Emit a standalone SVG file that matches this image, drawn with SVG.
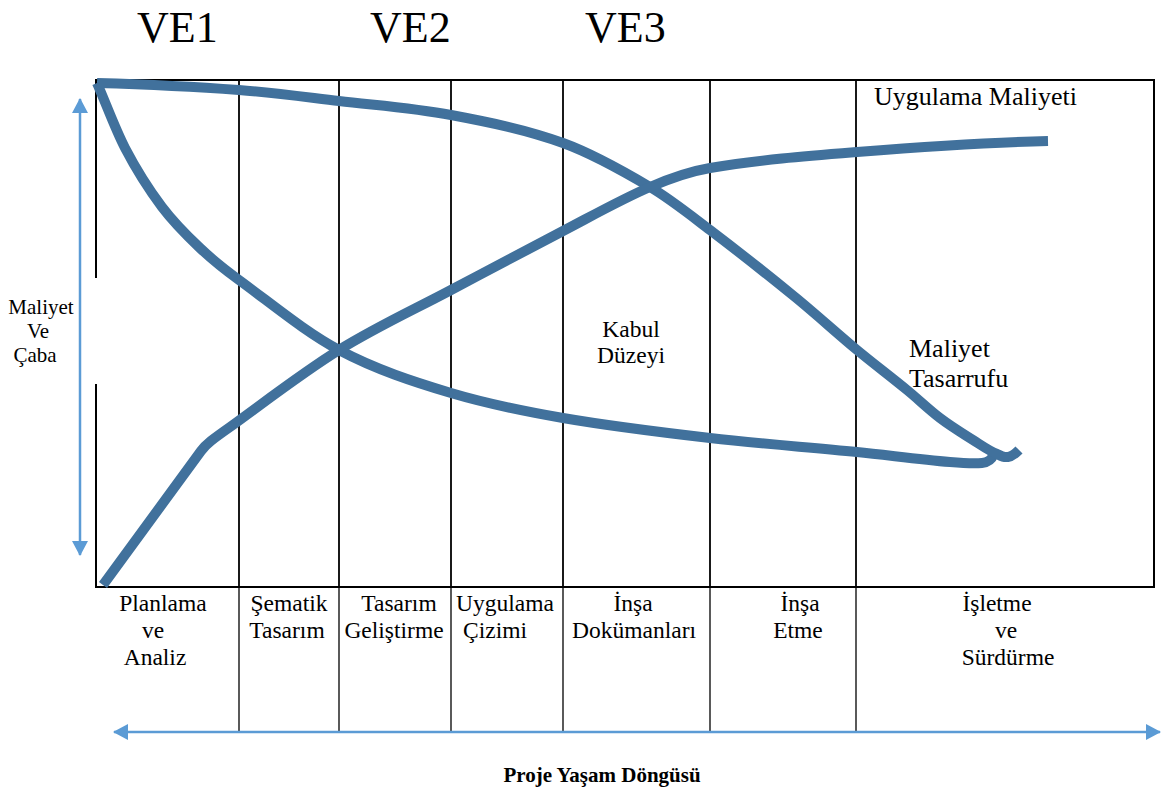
<svg xmlns="http://www.w3.org/2000/svg" width="1161" height="794" viewBox="0 0 1161 794">
  <defs>
    <style>
      .frame { fill: none; stroke: #000; stroke-width: 2; }
      .div { stroke: #000; stroke-width: 1.8; }
      .divlow { stroke: #000; stroke-width: 1.3; }
      .curve { fill: none; stroke: #41719C; stroke-width: 10; stroke-linecap: butt; stroke-linejoin: round; }
      .axis { fill: none; stroke: #5B9BD5; stroke-width: 2.5; }
      text { fill: #000; }
      .ve { font-size: 44px; }
      .lbl { font-size: 23.5px; text-anchor: middle; }
      .big { font-size: 26px; }
      .side { font-size: 21px; text-anchor: middle; }
      .title { font-size: 21px; font-weight: bold; text-anchor: middle; }
    </style>
    <marker id="ah" viewBox="0 0 15 16" refX="14" refY="8" markerWidth="15" markerHeight="16" markerUnits="userSpaceOnUse" orient="auto-start-reverse">
      <path d="M0,0 L15,8 L0,16 Z" fill="#5B9BD5"/>
    </marker>
  </defs>

  <rect width="1161" height="794" fill="#fff"/>

  <g font-family="Liberation Serif, DejaVu Serif, Times New Roman, serif">
  <!-- phase headings -->
  <g id="headings">
    <text class="ve" x="137" y="42">VE1</text>
    <text class="ve" x="370" y="42">VE2</text>
    <text class="ve" x="585" y="42">VE3</text>
  </g>

  <!-- chart frame and phase dividers -->
  <g id="frame">
    <path class="frame" d="M96,278 V80 H1154 V587 H96 V384"/>
    <line class="div" x1="239" y1="80" x2="239" y2="587"/>
    <line class="div" x1="339" y1="80" x2="339" y2="587"/>
    <line class="div" x1="451" y1="80" x2="451" y2="587"/>
    <line class="div" x1="563" y1="80" x2="563" y2="587"/>
    <line class="div" x1="710" y1="80" x2="710" y2="587"/>
    <line class="div" x1="856" y1="80" x2="856" y2="587"/>
    <line class="divlow" x1="239" y1="587" x2="239" y2="732"/>
    <line class="divlow" x1="339" y1="587" x2="339" y2="732"/>
    <line class="divlow" x1="451" y1="587" x2="451" y2="732"/>
    <line class="divlow" x1="563" y1="587" x2="563" y2="732"/>
    <line class="divlow" x1="710" y1="587" x2="710" y2="732"/>
    <line class="divlow" x1="856" y1="587" x2="856" y2="732"/>
  </g>

  <!-- axes -->
  <g id="connectors">
    <line class="axis" x1="80" y1="99" x2="80" y2="555" marker-start="url(#ah)" marker-end="url(#ah)"/>
    <line class="axis" x1="114" y1="732" x2="1160" y2="732" marker-start="url(#ah)" marker-end="url(#ah)"/>
  </g>

  <!-- curves -->
  <g id="curve-savings">
    <path class="curve" d="M97,83 C106.3,104.5 115.7,130.2 125,148 C137.3,171.6 149.7,190.6 162,207 C174.7,223.8 187.3,236 200,248 C213,260.4 226,270.5 239,280 C272.3,304.3 305.7,332.3 339,350 C376.3,369.8 413.7,381.8 451,393 C488.3,404.2 525.7,411.5 563,418 C612,426.5 661,432.3 710,438 C759,443.7 808,447.1 857,452 C888,455.1 919,459.5 950,462 C960.7,462.9 975,463.5 982,463 C988,462.5 992,459 994,454"/>
  </g>
  <g id="curve-cost">
    <path class="curve" d="M97,83 C144.3,84.4 191.7,86.5 239,90 C272.3,92.5 305.7,97.1 339,101 C376.3,105.4 413.7,108 451,115 C488.3,122 525.7,129.5 563,143 C592,153.5 621,169.8 650,187 C670,198.8 690,214.8 710,230 C738.3,251.5 766.7,273.9 795,297 C815.7,313.9 836.3,332.8 857,350 C873.7,363.8 890.3,376.3 907,390 C918,399 929,409.6 940,418 C951,426.4 962,433 973,440 C981,445 989,450.8 997,454 C1002,456.5 1004,457.5 1008,457 C1012,456.5 1016,453 1019,450"/>
  </g>
  <g id="curve-implementation">
    <path class="curve" d="M103,585 L201,451 C206,444 213,439 230,427 C266.3,400.8 302.7,372.5 339,350 C376.3,326.9 413.7,309.8 451,290 C488.3,270.2 525.7,250.4 563,231 C592,215.9 621,199.5 650,187 C670,178.4 690,171.4 710,168 C759,159.7 808,155.9 857,152 C920.7,146.9 984.3,142.3 1048,141"/>
  </g>

  <!-- chart annotations -->
  <g id="annotations">
    <text class="big" x="874" y="105">Uygulama Maliyeti</text>
    <text class="big" x="909" y="357">Maliyet</text>
    <text class="big" x="909" y="387">Tasarrufu</text>
    <text class="lbl" x="631" y="337">Kabul</text>
    <text class="lbl" x="631" y="363">Düzeyi</text>
  </g>

  <!-- vertical axis label -->
  <g id="y-label">
    <text class="side" x="41" y="314">Maliyet</text>
    <text class="side" x="38" y="338">Ve</text>
    <text class="side" x="35" y="362">Çaba</text>
  </g>

  <!-- phase names -->
  <g id="phase-planlama">
    <text class="lbl" x="163" y="611">Planlama</text>
    <text class="lbl" x="153" y="638">ve</text>
    <text class="lbl" x="155" y="665">Analiz</text>
  </g>
  <g id="phase-sematik">
    <text class="lbl" x="289" y="611">Şematik</text>
    <text class="lbl" x="287" y="638">Tasarım</text>
  </g>
  <g id="phase-gelistirme">
    <text class="lbl" x="399" y="611">Tasarım</text>
    <text class="lbl" x="394" y="638">Geliştirme</text>
  </g>
  <g id="phase-cizim">
    <text class="lbl" x="505" y="611">Uygulama</text>
    <text class="lbl" x="495" y="638">Çizimi</text>
  </g>
  <g id="phase-dokuman">
    <text class="lbl" x="633" y="611">İnşa</text>
    <text class="lbl" x="634" y="638">Dokümanları</text>
  </g>
  <g id="phase-insa">
    <text class="lbl" x="800" y="611">İnşa</text>
    <text class="lbl" x="798" y="638">Etme</text>
  </g>
  <g id="phase-isletme">
    <text class="lbl" x="997" y="611">İşletme</text>
    <text class="lbl" x="1006" y="638">ve</text>
    <text class="lbl" x="1008" y="665">Sürdürme</text>
  </g>

  <g id="x-label">
    <text class="title" x="602" y="782">Proje Yaşam Döngüsü</text>
  </g>
  </g>
</svg>
